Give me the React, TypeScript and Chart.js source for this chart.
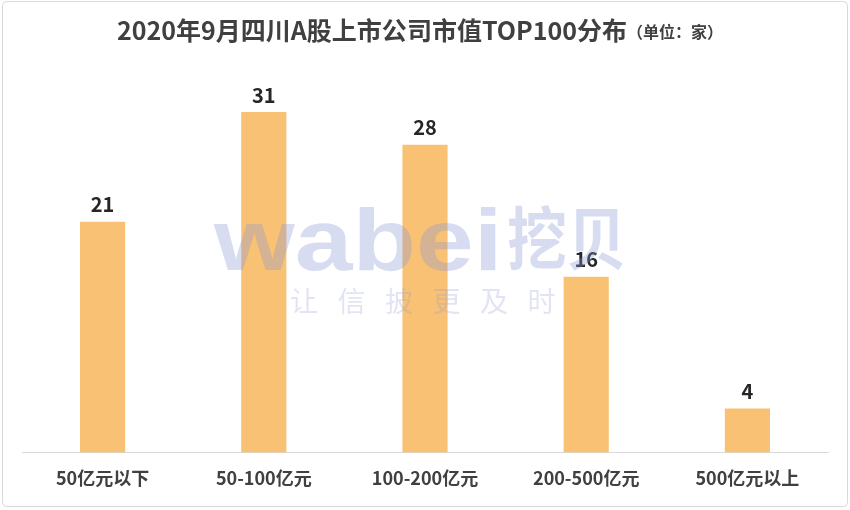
import React, { useEffect, useRef } from "react";
import { Chart, registerables } from "chart.js";

Chart.register(...registerables);

const categories = ["50亿元以下", "50-100亿元", "100-200亿元", "200-500亿元", "500亿元以上"];
const counts = [21, 31, 28, 16, 4];
const titleMain = "2020年9月四川A股上市公司市值TOP100分布";
const titleUnit = "（单位：家）";
const watermarkBig = "wabei";
const watermarkCn = "挖贝";
const watermarkSub = ["让", "信", "披", "更", "及", "时"];

const FONT = '"Noto Sans CJK SC", "Noto Sans", sans-serif';

const framePlugin = {
  id: "frame",
  beforeDraw(chart: any) {
    const ctx = chart.ctx;
    ctx.save();
    ctx.fillStyle = "#ffffff";
    ctx.fillRect(0, 0, chart.width, chart.height);
    ctx.strokeStyle = "#d9d9d9";
    ctx.lineWidth = 1;
    ctx.beginPath();
    (ctx as any).roundRect(2.5, 1.5, chart.width - 5, chart.height - 5, 4);
    ctx.stroke();
    ctx.restore();
  },
};

const titlePlugin = {
  id: "mixedTitle",
  afterDraw(chart: any) {
    const ctx = chart.ctx;
    ctx.save();
    ctx.textBaseline = "middle";
    ctx.fillStyle = "#404040";
    ctx.font = `bold 25px ${FONT}`;
    const w1 = ctx.measureText(titleMain).width;
    ctx.font = `bold 16px ${FONT}`;
    const w2 = ctx.measureText(titleUnit).width;
    const x0 = 420 - (w1 + w2) / 2;
    ctx.font = `bold 25px ${FONT}`;
    ctx.fillText(titleMain, x0, 30);
    ctx.font = `bold 16px ${FONT}`;
    ctx.fillText(titleUnit, x0 + w1, 32);
    ctx.restore();
  },
};

const valueLabelPlugin = {
  id: "valueLabels",
  afterDatasetsDraw(chart: any) {
    const ctx = chart.ctx;
    const meta = chart.getDatasetMeta(0);
    ctx.save();
    ctx.font = `bold 20px ${FONT}`;
    ctx.fillStyle = "#262626";
    ctx.textAlign = "center";
    ctx.textBaseline = "middle";
    meta.data.forEach((bar: any, i: number) => {
      ctx.fillText(String(counts[i]), bar.x, bar.y - 17);
    });
    ctx.restore();
  },
};

const watermarkPlugin = {
  id: "watermark",
  afterDraw(chart: any) {
    const ctx = chart.ctx;
    ctx.save();
    ctx.globalAlpha = 0.34;
    ctx.fillStyle = "#8e98d4";
    ctx.textBaseline = "alphabetic";
    ctx.save();
    ctx.translate(214, 270);
    ctx.scale(1.18, 1);
    ctx.font = `bold 88px "Liberation Sans", Arial, sans-serif`;
    ctx.fillText(watermarkBig, 0, 0);
    ctx.restore();
    ctx.save();
    ctx.translate(507, 264);
    ctx.scale(0.88, 1);
    ctx.font = `bold 68px ${FONT}`;
    ctx.fillText(watermarkCn, 0, 0);
    ctx.restore();
    ctx.globalAlpha = 0.26;
    ctx.font = `28px ${FONT}`;
    watermarkSub.forEach((c, i) => {
      ctx.fillText(c, 290 + i * 47.5, 312);
    });
    ctx.restore();
  },
};

export default function App() {
  const ref = useRef<HTMLCanvasElement | null>(null);
  useEffect(() => {
    document.body.style.margin = "0";
    if (!ref.current) return;
    const chart = new Chart(ref.current, {
      type: "bar",
      data: {
        labels: categories,
        datasets: [
          {
            data: counts,
            backgroundColor: "#f8c174",
            borderWidth: 0,
            categoryPercentage: 1,
            barPercentage: 0.28,
          },
        ],
      },
      options: {
        responsive: false,
        animation: false,
        layout: { padding: { top: 57, left: 22, right: 22, bottom: 6 } },
        plugins: { legend: { display: false }, tooltip: { enabled: false }, title: { display: false } },
        scales: {
          x: {
            grid: { display: false, drawTicks: false },
            border: { color: "#d9d9d9", width: 1 },
            ticks: { color: "#404040", font: { family: FONT, size: 18, weight: "bold" }, padding: 15 },
          },
          y: { display: false, min: 0, max: 36 },
        },
      },
      plugins: [framePlugin, valueLabelPlugin, watermarkPlugin, titlePlugin],
    });
    return () => chart.destroy();
  }, []);
  return <canvas ref={ref} width={850} height={510} style={{ display: "block" }} />;
}
